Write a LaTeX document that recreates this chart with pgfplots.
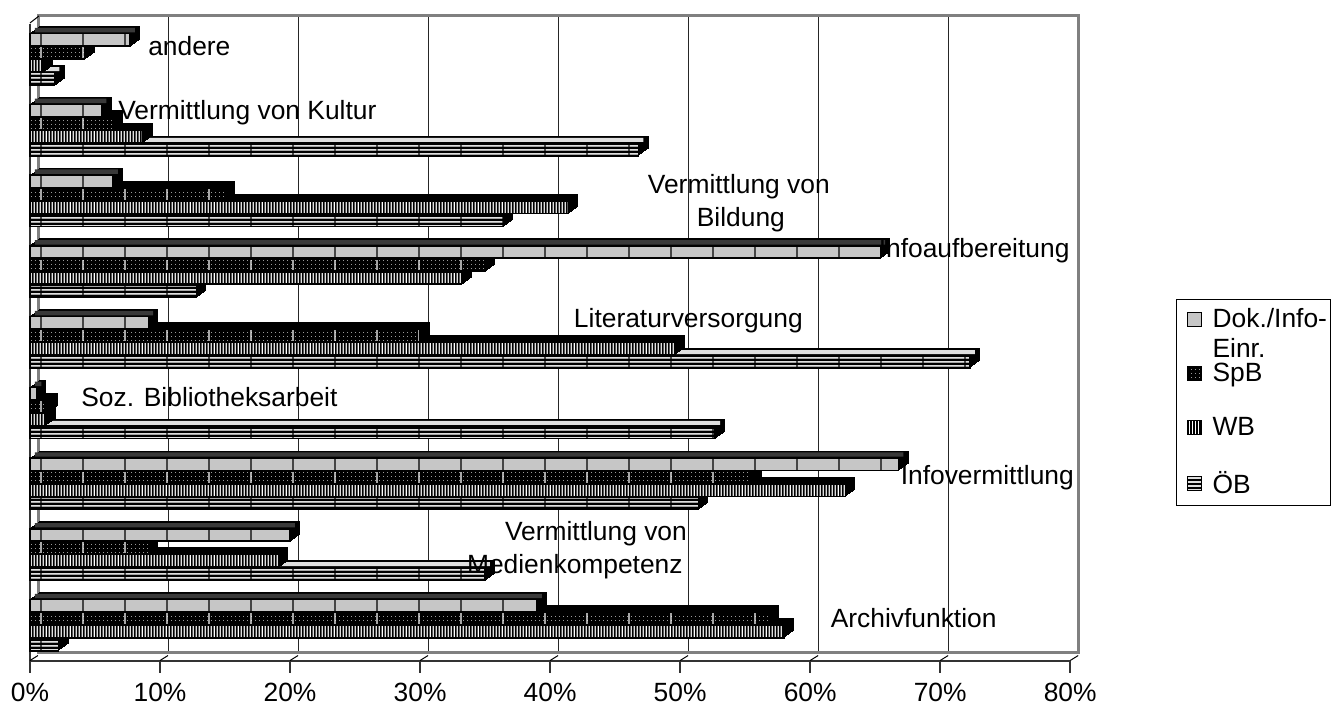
\documentclass[border=0pt]{standalone}
\usepackage{fontspec}
\setmainfont{Liberation Sans}
\usepackage{pgfplots}
\usepackage{pgfplotstable}
\pgfplotsset{compat=1.18}
\usetikzlibrary{patterns,calc}

% 1 image pixel = 0.5pt
\newcommand{\labfont}{\fontsize{13.2}{15}\selectfont}

\newcommand{\vs}[1]{\pgfpathrectangle{\pgfqpoint{#1pt}{0pt}}{\pgfqpoint{0.85pt}{12pt}}}
\newcommand{\hs}[1]{\pgfpathrectangle{\pgfqpoint{0pt}{#1pt}}{\pgfqpoint{12pt}{1.15pt}}}
\pgfdeclarepatternformonly{vmark}{\pgfpointorigin}{\pgfqpoint{21.125pt}{4pt}}{\pgfqpoint{21.125pt}{4pt}}{%
  \pgfpathrectangle{\pgfqpoint{20.6pt}{0pt}}{\pgfqpoint{0.6pt}{4pt}}\pgfusepath{fill}}
\pgfdeclarepatternformonly{fdots}{\pgfpointorigin}{\pgfqpoint{2pt}{2pt}}{\pgfqpoint{2pt}{2pt}}{%
  \pgfpathrectangle{\pgfqpoint{0pt}{0pt}}{\pgfqpoint{0.5pt}{0.5pt}}\pgfusepath{fill}}
\pgfdeclarepatternformonly{vstripe}{\pgfpointorigin}{\pgfqpoint{12pt}{12pt}}{\pgfqpoint{12pt}{12pt}}{%
  \vs{0}\vs{1.5}\vs{3}\vs{4.5}\vs{6}\vs{7.5}\vs{9}\vs{10.5}\pgfusepath{fill}}
\pgfdeclarepatternformonly{hstripe}{\pgfpointorigin}{\pgfqpoint{12pt}{12pt}}{\pgfqpoint{12pt}{12pt}}{%
  \hs{0}\hs{2}\hs{4}\hs{6}\hs{8}\hs{10}\pgfusepath{fill}}

\tikzset{
  dokface/.style={draw=black,line width=0.75pt,fill=gray!45,postaction={pattern=vmark,pattern color=black}},
  spbface/.style={draw=black,line width=0.75pt,fill=black,postaction={pattern=fdots,pattern color=gray!80},postaction={pattern=vmark,pattern color=white}},
  wbface/.style={draw=black,line width=0.75pt,fill=white,postaction={pattern=vstripe,pattern color=black}},
  oebface/.style={draw=black,line width=0.75pt,fill=white,postaction={pattern=hstripe,pattern color=black},postaction={pattern=vmark,pattern color=black}},
}

\pgfplotstableread{
cat dok  spb  wb   oeb
0.5 39.0 56.8 58.0 2.2
1.5 20.0 9.1  19.1 35.0
2.5 66.8 55.5 62.7 51.4
3.5 0.5  1.4  1.2  52.7
4.5 9.1  30.0 49.6 72.3
5.5 65.4 35.0 33.2 12.8
6.5 6.4  15.0 41.4 36.4
7.5 5.5  6.4  8.7  46.8
8.5 7.7  4.2  1.0  1.9
}\tab

% black extrusion of a series (stepped copies), then its front face
\newcommand{\barlayer}[3]{%
  \pgfplotsinvokeforeach{1,...,7}{%
    \addplot[forget plot,draw=black,fill=black,line width=0.5pt,bar shift=#2,xshift=##1*0.68pt,yshift=##1*0.5pt] table[x=#1,y=cat]{\tab};
  }
  \addplot[forget plot,#3,bar shift=#2] table[x=#1,y=cat]{\tab};
}

\begin{document}
\begin{tikzpicture}
\path (0pt,0pt) rectangle (665.5pt,352pt);

% back wall with the grid
\begin{axis}[
  at={(19.5pt,25.5pt)},anchor=origin,
  scale only axis,width=520pt,height=318.5pt,
  xmin=0,xmax=80,ymin=0,ymax=1,
  xtick={10,20,...,70},ytick=\empty,xticklabels={},
  major tick length=0pt,
  xmajorgrids,
  grid style={black!85,line width=0.5pt},
  axis line style={gray,line width=1.5pt},
]
\addplot[draw=none] coordinates {(0,0) (80,1)};
\end{axis}

% front plane with the bars
\begin{axis}[
  at={(15pt,21.5pt)},anchor=origin,
  scale only axis,width=520.5pt,height=318.5pt,
  xbar,bar width=6.2pt,
  clip=false,
  xmin=0,xmax=80,ymin=0,ymax=9,
  axis x line*=bottom,axis y line*=left,
  axis line style={black!80,line width=1pt,-},
  xtick={0,10,...,80},
  xticklabels={0\%,10\%,20\%,30\%,40\%,50\%,60\%,70\%,80\%},
  ytick=\empty,
  tick align=outside,
  major tick length=6pt,
  tick style={black!80,line width=0.8pt},
  tick label style={font=\labfont},
  xticklabel style={yshift=-2pt},
  legend cell align=left,
  legend style={
    at={(1.1018,0.5683)},anchor=north west,
    draw=black,line width=0.5pt,
    font=\labfont,
    row sep=16.15pt,
    inner xsep=5pt,inner ysep=4.5pt,
    nodes={inner sep=0pt},
    /tikz/column 1/.style={column sep=5.5pt},
  },
]
\barlayer{oeb}{-9.75pt}{oebface}
\addplot[forget plot,draw=none,fill=gray!25,bar width=2pt,bar shift=-4.9pt,xshift=2.4pt] table[x=oeb,y=cat]{\tab};
\barlayer{wb}{-3.25pt}{wbface}
\barlayer{spb}{3.25pt}{spbface}
\barlayer{dok}{9.75pt}{dokface}
\addplot[forget plot,draw=none,fill=gray!45!black,bar width=2.2pt,bar shift=14.6pt,xshift=2.4pt] table[x=dok,y=cat]{\tab};

\addlegendimage{legend image code/.code={\draw[dokface,line width=0.5pt] (0,-3.5pt) rectangle (7pt,3.5pt);}}
\addlegendentry{\rule[-3pt]{0pt}{12.5pt}\makebox[54pt][l]{\smash{\begin{tabular}[t]{@{}l@{}}Dok./Info-\\Einr.\end{tabular}}}}
\addlegendimage{legend image code/.code={\draw[spbface,line width=0.5pt] (0,-3.5pt) rectangle (7pt,3.5pt);}}
\addlegendentry{\rule[-3pt]{0pt}{12.5pt}SpB}
\addlegendimage{legend image code/.code={\draw[wbface,line width=0.5pt] (0,-3.5pt) rectangle (7pt,3.5pt);}}
\addlegendentry{\rule[-3pt]{0pt}{12.5pt}WB}
\addlegendimage{legend image code/.code={\draw[oebface,line width=0.5pt] (0,-3.5pt) rectangle (7pt,3.5pt);}}
\addlegendentry{\rule[-5.5pt]{0pt}{12.5pt}ÖB}
\end{axis}

% depth edges of the walls
\draw[black,line width=0.5pt] (15pt,340.5pt) -- (19.5pt,344pt);
\foreach \k in {0,...,8}
  \draw[black,line width=0.5pt] ({(15+\k*65.06)*1pt},21.5pt) -- ++(4pt,2.5pt);

% category names
\foreach \x/\y/\t in {
  74/324/andere,
  59/292/Vermittlung von Kultur,
  324/255/Vermittlung von,
  348.5/238.5/Bildung,
  439.5/223/Infoaufbereitung,
  287/188/Literaturversorgung,
  40.5/148.5/Soz. Bibliotheksarbeit,
  450.5/109.5/Infovermittlung,
  252.5/81.5/Vermittlung von,
  233.5/65/Medienkompetenz,
  415.5/38/Archivfunktion}
  \node[anchor=base west,inner sep=0pt,font=\labfont] at (\x pt,\y pt) {\t};
\end{tikzpicture}
\end{document}
